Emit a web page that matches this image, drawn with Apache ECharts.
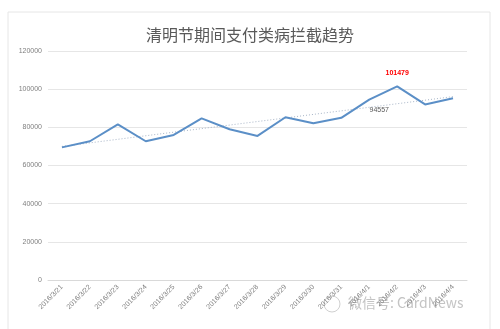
<!DOCTYPE html>
<html><head><meta charset="utf-8">
<script src="https://cdn.jsdelivr.net/npm/echarts@6/dist/echarts.min.js"></script>
<style>html,body{margin:0;padding:0;background:#fff}#c{width:500px;height:329px}</style>
</head><body><div id="c"></div>
<script>
const categories = ['2016/3/21','2016/3/22','2016/3/23','2016/3/24','2016/3/25','2016/3/26','2016/3/27','2016/3/28','2016/3/29','2016/3/30','2016/3/31','2016/4/1','2016/4/2','2016/4/3','2016/4/4'];
const values = [69500,72700,81600,72700,76000,84700,79000,75500,85300,82100,85000,94557,101479,92000,95200];
const trend = [70000,'-','-','-','-','-','-','-','-','-','-','-','-','-',96100];
const yTicks = [0,20000,40000,60000,80000,100000,120000];
const titleText = '清明节期间支付类病拦截趋势';
const watermark = '微信号: CardNews';

const chart = echarts.init(document.getElementById('c'), null, {renderer:'canvas'});
chart.setOption({
  animation:false,
  backgroundColor:'#fff',
  title:{text:titleText,left:'center',top:22,textStyle:{fontFamily:'Noto Sans CJK SC',fontSize:16,fontWeight:'normal',color:'#595959'}},
  graphic:[
    {type:'rect',shape:{x:8,y:12,width:482,height:330},style:{fill:'none',stroke:'#e6e6e6',lineWidth:1},silent:true},
    {type:'text',left:348,top:296,style:{text:watermark,fontFamily:'Noto Sans CJK SC',fontSize:14,fill:'#c4c4c4'}},
    {type:'circle',shape:{cx:332,cy:304,r:8},style:{fill:'none',stroke:'#d0d0d0',lineWidth:1}}
  ],
  grid:{left:48,right:33,top:51,bottom:49},
  xAxis:{type:'category',data:categories,boundaryGap:true,
    axisLine:{lineStyle:{color:'#d9d9d9'}},axisTick:{show:false},
    axisLabel:{rotate:45,fontSize:7,color:'#808080',margin:6,interval:0,fontFamily:'Liberation Sans'}},
  yAxis:{type:'value',min:yTicks[0],max:yTicks[yTicks.length-1],interval:20000,
    axisLine:{show:false},axisTick:{show:false},
    axisLabel:{fontSize:7,color:'#808080',margin:6,fontFamily:'Liberation Sans',formatter:v=>String(v)},
    splitLine:{lineStyle:{color:'#e6e6e6'}}},
  series:[
    {type:'line',data:trend,connectNulls:true,symbol:'none',z:1,
      lineStyle:{color:'#a9b6c8',width:1,type:[1,2]}},
    {type:'line',data:values.map((v,i)=>{
        if(i===12) return {value:v,label:{show:true,position:'top',distance:10,color:'#ff0000',fontWeight:'bold',fontSize:7}};
        if(i===11) return {value:v,label:{show:true,position:'bottom',offset:[10,2],color:'#595959',fontSize:7}};
        return v;}),
      symbol:'circle',symbolSize:0,showSymbol:true,z:3,label:{show:false,fontFamily:'Liberation Sans'},
      lineStyle:{color:'#5b8fc7',width:2}}
  ]
});
</script></body></html>
